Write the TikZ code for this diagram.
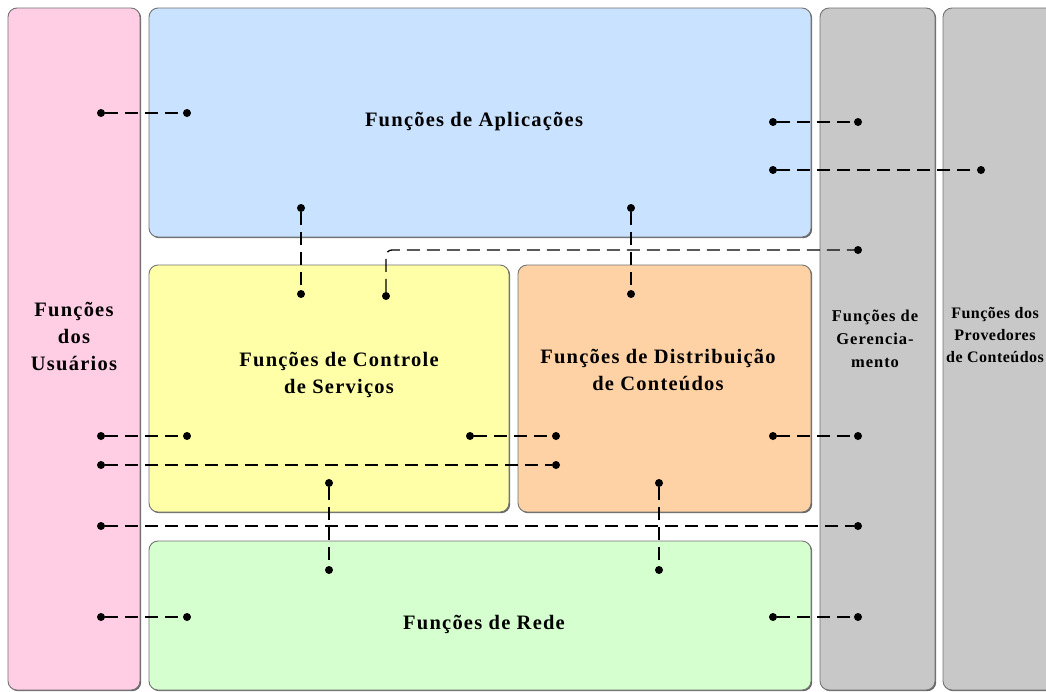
\documentclass[tikz,border=0pt]{standalone}
\usepackage{fontspec}
\newfontfamily\lbl{Liberation Serif}[LetterSpace=6]
\newfontfamily\lblnarrow{Liberation Serif}[LetterSpace=3]
\usetikzlibrary{shadows}
\definecolor{usrpink}{RGB}{255,205,228}
\definecolor{aplblue}{RGB}{200,226,255}
\definecolor{ctlyellow}{RGB}{255,255,168}
\definecolor{dstorange}{RGB}{255,210,165}
\definecolor{redegreen}{RGB}{214,255,208}
\definecolor{gergrey}{RGB}{200,200,200}

\begin{document}
\begin{tikzpicture}[x=1pt,y=-1pt,
box/.style={draw=black!55, line width=0.9pt, rounded corners=9pt, inner sep=0pt,
  drop shadow={shadow xshift=1.2pt, shadow yshift=-1.2pt, opacity=0.6, fill=black}},
txt/.style={font=\lbl\bfseries\fontsize{20.5}{27}\selectfont, align=center},
smalltxt/.style={font=\lbl\bfseries\fontsize{16.5}{23}\selectfont, align=center},
dot/.style={circle, fill=black, inner sep=0pt, minimum size=8pt},
link/.style={line width=1.3pt, dash pattern=on 13pt off 7pt}]
\clip (0,0) rectangle (1046,691);
\fill[white] (0,0) rectangle (1046,691);
% the blocks
\node[box, fill=usrpink, minimum width=132pt, minimum height=682pt] (usr) at (74,349) {};
\node[box, fill=aplblue, minimum width=662pt, minimum height=229pt] (apl) at (480,122.5) {};
\node[box, fill=ctlyellow, minimum width=360pt, minimum height=247pt] (ctl) at (329,388.5) {};
\node[box, fill=dstorange, minimum width=293pt, minimum height=247pt] (dst) at (664.5,388.5) {};
\node[box, fill=redegreen, minimum width=662pt, minimum height=149pt] (rede) at (480,615.5) {};
\node[box, fill=gergrey, minimum width=115pt, minimum height=682pt] (ger) at (877.5,349) {};
\node[box, fill=gergrey, minimum width=117pt, minimum height=682pt] (prov) at (1001.5,349) {};
% the labels
\node[txt] (usrtxt) at (74,336) {Funções\\dos\\Usuários};
\node[txt] (apltxt) at (474,122) {Funções de Aplicações};
\node[txt] (ctltxt) at (339,375) {Funções de Controle\\de Serviços};
\node[txt] (dsttxt) at (658,370) {Funções de Distribuição\\de Conteúdos};
\node[txt] (redetxt) at (484,624) {Funções de Rede};
\node[smalltxt] (gertxt) at (875,339) {Funções de\\Gerencia-\\mento};
\node[smalltxt, font=\lblnarrow\bfseries\fontsize{16}{22}\selectfont] (provtxt) at (995,335) {Funções dos\\Provedores\\de Conteúdos};
% the end points
\foreach \n/\x/\y in {u1/101/113, a1/187/113, a2/773/122, g1/858/122, a3/773/170, p1/981/170,
  a4/301/208, c1/301/294, a5/631/208, d1/631/294, c2/386/296, g2/858/250,
  u2/101/436, c3/187/436, c4/470/436, d2/556/436, d3/773/436, g3/858/436,
  u3/101/465, d4/556/465, c5/329/483, r1/329/570, d5/659/483, r2/659/570,
  u4/101/526, g4/858/526, u5/101/617, r3/187/617, r4/773/617, g5/858/617}
  \node[dot] (\n) at (\x,\y) {};
% the links
\foreach \a/\b in {u1/a1, a2/g1, a3/p1, a4/c1, a5/d1, u2/c3, c4/d2, d3/g3,
  u3/d4, c5/r1, d5/r2, u4/g4, u5/r3, r4/g5}
  \draw[link] (\a) -- (\b);
\draw[link, rounded corners=6pt] (c2) |- (g2);
\end{tikzpicture}
\end{document}
